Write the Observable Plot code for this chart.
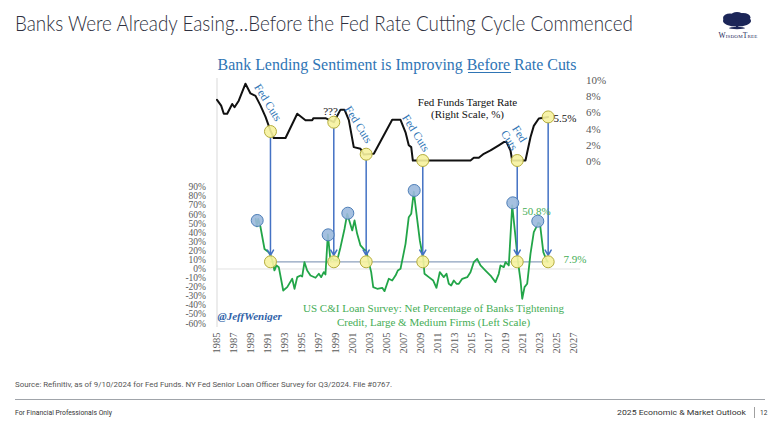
<!DOCTYPE html>
<html><head><meta charset="utf-8">
<script src="https://cdn.jsdelivr.net/npm/d3@7"></script>
<script src="https://cdn.jsdelivr.net/npm/@observablehq/plot@0.6"></script>
<style>
html,body{margin:0;padding:0;background:#fff;}
#wrap{position:relative;width:780px;height:427px;overflow:hidden;background:#fff;}
#deco{position:absolute;left:0;top:0;}
#chart{position:absolute;left:0;top:0;}
</style></head><body>
<div id="wrap">
<svg id="deco" width="780" height="427">
  <text x="15" y="31" font-family="Lato" font-weight="300" font-size="21" fill="#2e3040" textLength="618" lengthAdjust="spacingAndGlyphs">Banks Were Already Easing…Before the Fed Rate Cutting Cycle Commenced</text>
  <g fill="#1c2658">
    <ellipse cx="737" cy="21" rx="14" ry="5.5"/>
    <ellipse cx="730" cy="18" rx="7" ry="4.5"/>
    <ellipse cx="743" cy="17.5" rx="7.5" ry="4.5"/>
    <ellipse cx="737" cy="15.5" rx="6" ry="3.5"/>
    <rect x="736" y="22" width="2.2" height="6"/>
    <ellipse cx="737" cy="28" rx="8" ry="1.2"/>
  </g>
  <text x="738" y="37.5" text-anchor="middle" font-family="Liberation Serif" font-size="7.5" fill="#1c2658" style="font-variant:small-caps" letter-spacing="0.2">WisdomTree</text>
  <text id="ctitle" x="397" y="70" text-anchor="middle" font-family="Liberation Serif" font-size="16.5" fill="#2f75b5" textLength="359" lengthAdjust="spacingAndGlyphs">Bank Lending Sentiment is Improving Before Rate Cuts</text>
  <line x1="468" x2="511" y1="72.5" y2="72.5" stroke="#2f75b5" stroke-width="1"/>
  <text x="15" y="387" font-family="Roboto" font-size="8" fill="#555" textLength="377" lengthAdjust="spacingAndGlyphs">Source: Refinitiv, as of 9/10/2024 for Fed Funds. NY Fed Senior Loan Officer Survey for Q3/2024. File #0767.</text>
  <line x1="15" x2="765" y1="399.5" y2="399.5" stroke="#a0a4aa" stroke-width="1"/>
  <text x="15" y="415" font-family="Roboto" font-size="6.5" fill="#333" textLength="97" lengthAdjust="spacingAndGlyphs">For Financial Professionals Only</text>
  <text x="617" y="415" font-family="Roboto" font-size="6.5" fill="#333" textLength="129" lengthAdjust="spacingAndGlyphs">2025 Economic &amp; Market Outlook</text>
  <line x1="754.5" x2="754.5" y1="407" y2="418" stroke="#888" stroke-width="0.8"/>
  <text x="760" y="415" font-family="Roboto" font-size="6.5" fill="#333">12</text>
</svg>
<div id="chart"></div>
</div>
<script>
// Fed Funds Target Rate (right scale, %)
const ffYear = [1985.0,1985.49,1985.8,1986.2,1986.79,1987.06,1987.56,1988.35,1988.94,1989.53,1990.12,1990.71,1991.29,1991.68,1993.06,1994.44,1995.41,1996.2,1996.35,1997.76,1998.74,1999.53,2000.0,2000.51,2001.09,2001.88,2002.27,2003.45,2005.61,2006.59,2007.18,2007.56,2007.85,2008.04,2014.82,2015.21,2015.8,2016.39,2017.18,2018.15,2018.74,2019.06,2019.53,2019.73,2021.29,2021.88,2022.27,2022.86,2023.96];
const ffRate = [7.6,6.9,5.9,5.9,7.1,6.7,7.5,9.6,8.4,8.1,6.9,5.5,3.8,2.9,2.9,5.9,5.1,5.1,5.35,5.35,4.85,6.4,6.4,5.1,1.77,1.57,0.86,0.95,5.15,5.15,3.6,2.0,1.77,0.12,0.12,0.45,0.45,0.95,1.36,2.0,2.4,2.4,1.36,0.12,0.12,3.0,4.4,5.3,5.5];

// US C&I Loan Survey: net % of banks tightening (left scale, %)
const surveyYear = [1989.55,1989.7,1989.85,1990.1,1990.59,1991.09,1991.29,1991.49,1991.76,1992.0,1992.27,1992.79,1993.26,1993.85,1994.12,1994.44,1994.82,1995.02,1995.29,1995.61,1996.0,1996.59,1996.98,1997.26,1997.56,1997.76,1998.04,1998.35,1998.55,1998.74,1999.14,1999.53,2000.0,2000.32,2000.62,2000.91,2001.18,2001.49,2001.88,2002.35,2002.55,2002.86,2003.14,2003.38,2003.85,2004.44,2004.71,2005.21,2005.61,2006.0,2006.27,2006.59,2006.91,2007.18,2007.56,2007.85,2008.15,2008.47,2008.86,2009.26,2009.41,2009.92,2010.44,2010.82,2011.21,2011.68,2012.0,2012.27,2012.55,2012.86,2013.18,2013.45,2013.85,2014.44,2014.82,2015.21,2015.61,2016.0,2016.59,2017.18,2017.76,2018.15,2018.35,2018.74,2018.94,2019.33,2019.73,2020.12,2020.39,2020.71,2020.91,2021.18,2021.49,2021.88,2022.27,2022.67,2022.8,2023.0,2023.39,2023.79,2023.92];
const surveyValue = [55,47,55,47,22,18.5,15,10,-1.6,3.9,2,-23.7,-20,-10.8,-21.8,-9,-7.2,-8.3,7.5,-1.7,-7.2,-9.7,-5.3,-9,-3.5,-6,38,9.4,12.3,10,9.4,24,44,60.7,51.5,42.4,53.4,38.7,25.9,21.1,20.4,7.5,-3.5,-20,-21.8,-20.7,-24.4,-10.8,-12.7,-7.2,-1.7,0.2,14.9,27.7,57,60.7,85,60.7,31.4,11.2,-5.3,-9,-12.7,-20.7,-3.5,-9,-5.3,-16.3,-18.2,-12.7,-16.3,-16.3,-10.8,-9,-3.5,7.5,11.2,3.9,-1.7,-7.2,-14.5,-5.3,3.9,2,7.5,3.9,69.9,35,9.4,-12.7,-32.8,-20,-16.3,16.7,40.5,47.9,51,49.7,18.5,9.4,7.9];

// Rate-cut markers and survey peaks
const cutYear = [1991.29,1998.74,2002.55,2009.21,2020.32,2023.96];
const cutRate = [3.7,4.85,0.9,0.12,0.12,5.5];
const cutSurveyLevel = 7.9;
const peakYear = [1989.73,1998.08,2000.39,2008.2,2019.8,2022.74];
const peakValue = [53.4,37.6,61.4,86.4,72.8,52.6];

// Axis ticks
const leftTicks = [-60,-50,-40,-30,-20,-10,0,10,20,30,40,50,60,70,80,90];
const rightTicks = [0,2,4,6,8,10];
const yearTicks = [1985,1987,1989,1991,1993,1995,1997,1999,2001,2003,2005,2007,2009,2011,2013,2015,2017,2019,2021,2023,2025,2027];

// Right-scale (%) expressed in left-scale units
const toLeft = r => 118.3 + 8.914 * r;
const fromLeft = L => (L - 118.3) / 8.914;

const ff = ffYear.map((x, i) => ({x, y: toLeft(ffRate[i])}));
const survey = surveyYear.map((x, i) => ({x, y: surveyValue[i]}));
const cutsTop = cutYear.map((x, i) => ({x, y: toLeft(cutRate[i])}));
const cutsBottom = cutYear.map(x => ({x, y: cutSurveyLevel}));
const peaks = peakYear.map((x, i) => ({x, y: peakValue[i]}));

const SERIF = "Liberation Serif";
const BLUE = "#2f75b5";
const GREEN = "#45ad55";

const chart = Plot.plot({
  width: 780, height: 360,
  marginLeft: 216.5, marginRight: 206.5, marginTop: 78, marginBottom: 33,
  style: {background: "transparent", fontFamily: SERIF, overflow: "visible"},
  x: {type: "linear", domain: [1985, 2027]},
  y: {type: "linear", domain: [-60, 90], range: [323, 186.7]},
  marks: [
    Plot.ruleX([1985], {stroke: "#d9d9d9"}),
    Plot.ruleY([0], {x1: 1985, x2: 2027.8, stroke: "#e2e2e2"}),
    Plot.axisY(leftTicks, {anchor: "left", tickSize: 0, tickPadding: 11, tickFormat: d => d + "%", fontSize: 9.5, fill: "#595959", label: null}),
    Plot.axisY(rightTicks.map(toLeft), {anchor: "right", tickSize: 0, tickPadding: 12, tickFormat: d => Math.round(fromLeft(d)) + "%", fontSize: 11, fill: "#595959", label: null}),
    Plot.axisX(yearTicks, {anchor: "bottom", tickSize: 0, tickPadding: 5, tickRotate: -90, tickFormat: d => String(d), fontSize: 10.5, fill: "#595959", label: null}),
    Plot.ruleY([cutSurveyLevel], {x1: cutYear[0], x2: cutYear[cutYear.length - 1], stroke: "#8da0bd", strokeWidth: 1.2}),
    Plot.line(survey, {x: "x", y: "y", stroke: "#22a548", strokeWidth: 1.8}),
    Plot.line(ff, {x: "x", y: "y", stroke: "#111", strokeWidth: 2}),
    Plot.arrow(cutYear.map((x, i) => ({x, y1: toLeft(cutRate[i]), y2: cutSurveyLevel})), {x1: "x", x2: "x", y1: "y1", y2: "y2", stroke: "#4472c4", strokeWidth: 1.5, headLength: 6, insetStart: 6, insetEnd: 6.5}),
    Plot.dot(peaks, {x: "x", y: "y", r: 6, fill: "#9bb9dd", fillOpacity: 0.9, stroke: "#4f7fb8", strokeWidth: 1}),
    Plot.dot(cutsTop, {x: "x", y: "y", r: 6, fill: "#f6f29e", fillOpacity: 0.9, stroke: "#b5ad3c", strokeWidth: 1}),
    Plot.dot(cutsBottom, {x: "x", y: "y", r: 6, fill: "#f6f29e", fillOpacity: 0.9, stroke: "#b5ad3c", strokeWidth: 1}),
    Plot.text([
      {x: 1991.0, r: 7.28, t: "Fed Cuts"},
      {x: 2001.65, r: 4.57, t: "Fed Cuts"},
      {x: 2008.41, r: 3.52, t: "Fed Cuts"},
      {x: 2020.0, r: 3.02, t: "Fed\nCuts"}
    ], {x: "x", y: d => toLeft(d.r), text: "t", rotate: 58, fill: BLUE, fontSize: 11.5, lineHeight: 1.05}),
    Plot.text([{x: 1998.35, r: 6.17}], {x: "x", y: d => toLeft(d.r), text: () => "???", fill: "#111", fontSize: 11}),
    Plot.text([{x: 2014.47, r: 6.54}], {x: "x", y: d => toLeft(d.r), text: () => "Fed Funds Target Rate\n(Right Scale, %)", fill: "#111", fontSize: 11, lineHeight: 1.1}),
    Plot.text([{x: 2024.6, r: 5.35}], {x: "x", y: d => toLeft(d.r), text: () => "5.5%", textAnchor: "start", fill: "#111", fontSize: 11}),
    Plot.text([{x: 2020.9, y: 63.3}], {x: "x", y: "y", text: () => "50.8%", textAnchor: "start", fill: GREEN, fontSize: 11}),
    Plot.text([{x: 2025.75, y: 10.5}], {x: "x", y: "y", text: () => "7.9%", textAnchor: "start", fill: GREEN, fontSize: 11}),
    Plot.text([{x: 2010.47, y: -49.8}], {x: "x", y: "y", text: () => "US C&I Loan Survey: Net Percentage of Banks Tightening\nCredit, Large & Medium Firms (Left Scale)", fill: GREEN, fontSize: 11, lineHeight: 1.27}),
    Plot.text([{x: 1985.06, y: -51.9}], {x: "x", y: "y", text: () => "@JeffWeniger", textAnchor: "start", fill: "#2f62a8", fontSize: 11, fontWeight: "bold", fontStyle: "italic"})
  ]
});
document.getElementById("chart").appendChild(chart);
</script>
</body></html>
